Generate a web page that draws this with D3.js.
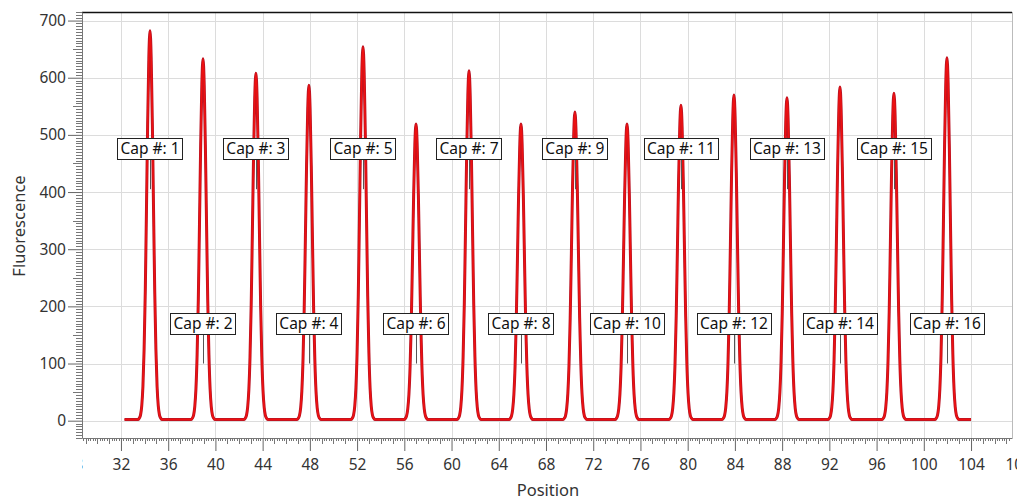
<!DOCTYPE html>
<html><head><meta charset="utf-8">
<script src="https://cdn.jsdelivr.net/npm/d3@7"></script>
<style>
html,body{margin:0;padding:0;background:#fff;}
svg{display:block;font-family:"Noto Sans","Open Sans",sans-serif;}
</style></head>
<body>
<svg id="chart" width="1017" height="503"></svg>
<script>
// ---- data ----
const peakPositions = [34.46, 38.95, 43.43, 47.92, 52.5, 56.99, 61.48, 65.88, 70.45, 74.86, 79.43, 83.92, 88.41, 92.9, 97.47, 101.96];
const peakHeights   = [682, 633, 608, 587, 654, 519, 612, 519, 540, 519, 552, 570, 565, 584, 573, 635];
const capLabels = ["Cap #: 1","Cap #: 2","Cap #: 3","Cap #: 4","Cap #: 5","Cap #: 6","Cap #: 7","Cap #: 8",
                   "Cap #: 9","Cap #: 10","Cap #: 11","Cap #: 12","Cap #: 13","Cap #: 14","Cap #: 15","Cap #: 16"];
const labelAnchors = [405, 100, 405, 100, 405, 100, 405, 100, 405, 100, 405, 100, 405, 100, 405, 100];
const profileOffsets   = [-1.0, -0.9, -0.8, -0.7, -0.6, -0.5, -0.4, -0.3, -0.2, -0.1, 0, 0.1, 0.2, 0.3, 0.4, 0.5, 0.6, 0.7, 0.8, 0.9, 1.0];
const profileFractions = [0, 0.004, 0.012, 0.035, 0.085, 0.18, 0.33, 0.54, 0.76, 0.93, 1, 0.93, 0.76, 0.54, 0.33, 0.18, 0.085, 0.035, 0.012, 0.004, 0];
const traceStart = 32.3, traceEnd = 104.0, baseline = 2;
const xTickValues = [28, 32, 36, 40, 44, 48, 52, 56, 60, 64, 68, 72, 76, 80, 84, 88, 92, 96, 100, 104, 108];
const yTickValues = [0, 100, 200, 300, 400, 500, 600, 700];

// ---- layout ----
const svg = d3.select("#chart");
const L = 82, R = 1012, T = 12, B = 438;
const x = d3.scaleLinear().domain([28.7, 107.47]).range([L, R]);
const y = d3.scaleLinear().domain([-30.3, 715]).range([B, T]);

const defs = svg.append("defs");
defs.append("clipPath").attr("id","plotclip")
  .append("rect").attr("x",L).attr("y",T).attr("width",R-L).attr("height",B-T);
defs.append("clipPath").attr("id","xlabclip")
  .append("rect").attr("x",L).attr("y",B).attr("width",1017-L).attr("height",503-B);

// grid
const grid = svg.append("g").attr("clip-path","url(#plotclip)");
grid.selectAll("line.vg").data(xTickValues).join("line")
  .attr("x1",d=>Math.round(x(d))+0.5).attr("x2",d=>Math.round(x(d))+0.5).attr("y1",T).attr("y2",B)
  .attr("stroke","#dcdcdc").attr("stroke-width",1);
grid.selectAll("line.hg").data(yTickValues).join("line")
  .attr("x1",L).attr("x2",R).attr("y1",d=>Math.round(y(d))+0.5).attr("y2",d=>Math.round(y(d))+0.5)
  .attr("stroke","#dcdcdc").attr("stroke-width",1);

// frame
svg.append("line").attr("x1",L).attr("x2",R).attr("y1",T+0.5).attr("y2",T+0.5).attr("stroke","#111").attr("stroke-width",1.3);
svg.append("line").attr("x1",R+0.5).attr("x2",R+0.5).attr("y1",T).attr("y2",B).attr("stroke","#bbb");

// trace points
const pts = [[traceStart, baseline]];
peakPositions.forEach((p,i)=>{
  profileOffsets.forEach((o,j)=>{
    pts.push([p+o, baseline + profileFractions[j]*(peakHeights[i]-baseline)]);
  });
});
pts.push([traceEnd, baseline]);
const line = d3.line().x(d=>x(d[0])).y(d=>y(d[1])).curve(d3.curveMonotoneX);
const tr = svg.append("g").attr("clip-path","url(#plotclip)");
tr.append("path").datum(pts).attr("d",line).attr("fill","none")
  .attr("stroke","#b81424").attr("stroke-width",3).attr("stroke-linejoin","round");
tr.append("path").datum(pts).attr("d",line).attr("fill","none")
  .attr("stroke","#ee1111").attr("stroke-width",1.6).attr("stroke-linejoin","round");

// labels
const lab = svg.append("g");
peakPositions.forEach((p,i)=>{
  const ax = Math.round(x(p))+0.5, ay = y(labelAnchors[i]);
  const boxBottom = ay - 30;
  lab.append("line").attr("x1",ax).attr("x2",ax).attr("y1",boxBottom).attr("y2",ay)
    .attr("stroke","#555").attr("stroke-width",1);
  const g = lab.append("g");
  const rect = g.append("rect");
  const t = g.append("text").attr("x",x(p)).attr("y",boxBottom-5)
    .attr("text-anchor","middle").attr("font-size",15.5).attr("fill","#111").text(capLabels[i]);
  const w = t.node().getComputedTextLength();
  rect.attr("x",Math.round(x(p)-w/2-3)+0.5).attr("y",Math.round(boxBottom-21)+0.5)
    .attr("width",Math.round(w+6)).attr("height",21)
    .attr("fill","#fff").attr("stroke","#222").attr("stroke-width",1);
});

// y axis
const yAxis = d3.axisLeft(y).tickValues(yTickValues).tickSize(14).tickSizeOuter(0).tickPadding(2);
const yg = svg.append("g").attr("transform",`translate(${L},0)`).call(yAxis);
yg.select(".domain").attr("stroke","#777");
yg.selectAll(".tick line").attr("stroke","#666");
yg.selectAll(".tick text").attr("font-size",15.5).attr("fill","#333").attr("font-family","Noto Sans");
const yMinor = d3.range(-30, 716, 5).filter(v=>v%100!==0);
svg.append("g").selectAll("line").data(yMinor).join("line")
  .attr("x1",d=>L-(d%50===0?9:6)).attr("x2",L).attr("y1",d=>Math.round(y(d))+0.5).attr("y2",d=>Math.round(y(d))+0.5)
  .attr("stroke","#777").attr("stroke-width",1);

// x axis (labels clipped to the plot's horizontal extent)
const xAxis = d3.axisBottom(x).tickValues(xTickValues).tickSize(13).tickSizeOuter(0).tickPadding(8).tickFormat(d3.format("d"));
const xOuter = svg.append("g").attr("clip-path","url(#xlabclip)");
const xg = xOuter.append("g").attr("transform",`translate(0,${B})`).call(xAxis);
xg.select(".domain").attr("stroke","#777");
xg.selectAll(".tick line").attr("stroke","#666");
xg.selectAll(".tick text").attr("font-size",15.5).attr("fill","#333").attr("font-family","Noto Sans");
const xMinor = d3.range(0, 400).map(i=>28.8+i*0.2).filter(v=>v<107.4 && Math.abs(v/4-Math.round(v/4))>0.01);
svg.append("g").selectAll("line").data(xMinor).join("line")
  .attr("x1",d=>Math.round(x(d))+0.5).attr("x2",d=>Math.round(x(d))+0.5).attr("y1",B)
  .attr("y2",d=>B+(Math.abs(d-Math.round(d))<0.01?6:3))
  .attr("stroke","#777").attr("stroke-width",1);

// axis titles
svg.append("text").attr("x",548).attr("y",496).attr("text-anchor","middle")
  .attr("font-size",16.5).attr("fill","#333").text("Position");
svg.append("text").attr("transform","translate(25,226) rotate(-90)").attr("text-anchor","middle")
  .attr("font-size",16.5).attr("fill","#333").text("Fluorescence");
</script>
</body></html>
